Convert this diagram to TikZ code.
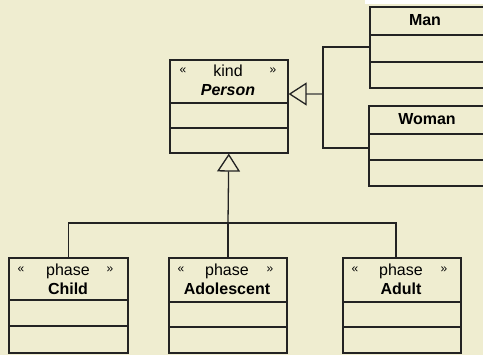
\documentclass[tikz,border=0pt]{standalone}
\usepackage{fontspec}
\setmainfont{Liberation Sans}
\usetikzlibrary{arrows.meta}
\definecolor{bg}{RGB}{239,237,208}
\definecolor{ln}{RGB}{35,35,35}
\definecolor{lngrey}{RGB}{120,120,110}
\tikzset{
  cls/.style={draw=ln, fill=bg, line width=1.6pt, rectangle, inner sep=0pt, anchor=north west},
  sep/.style={draw=ln, line width=1.3pt},
  thicksep/.style={draw=ln, line width=2.2pt},
  stereo/.style={font=\fontsize{16}{16}\selectfont, inner sep=0pt, anchor=base},
  guil/.style={font=\fontsize{12}{12}\selectfont, inner sep=0pt, anchor=base},
  cname/.style={font=\fontsize{16}{16}\selectfont\bfseries, inner sep=0pt, anchor=base},
  conn/.style={draw=ln, line width=1.3pt},
  gen/.style={conn, -{Triangle[open, length=18pt, width=23pt, line width=1.3pt, color=ln]}},
}
\begin{document}
\begin{tikzpicture}[x=1pt, y=-1pt]
\useasboundingbox (0,0) rectangle (483,355);
\clip (0,0) rectangle (483,355);
\fill[bg] (0,0) rectangle (483,355);
\fill[white] (365,0) rectangle (483,4);

% Person
\node[cls, minimum width=118pt, minimum height=93pt] (person) at (169,59) {};
\draw[thicksep] (169,103) -- (287,103);
\draw[sep] (169,128) -- (287,128);
\node[guil] (p1) at (183,74) {«};
\node[guil] (p2) at (273,74) {»};
\node[stereo] (pk) at (228,77) {kind};
\node[cname, font=\fontsize{16}{16}\selectfont\bfseries\itshape] (pn) at (228,96) {Person};

% Man
\node[cls, minimum width=130pt, minimum height=81pt] (man) at (369,6) {};
\draw[sep] (369,35) -- (499,35);
\draw[sep] (369,62) -- (499,62);
\node[cname] (mn) at (425,26) {Man};

% Woman
\node[cls, minimum width=130pt, minimum height=80pt] (woman) at (368,105) {};
\draw[sep] (368,134) -- (498,134);
\draw[sep] (368,160) -- (498,160);
\node[cname] (wn) at (427,125) {Woman};

% Child
\node[cls, minimum width=119pt, minimum height=95pt] (child) at (8,257) {};
\draw[thicksep] (8,300) -- (127,300);
\draw[sep] (8,326) -- (127,326);
\node[guil] (c1) at (21,273) {«};
\node[guil] (c2) at (110,273) {»};
\node[stereo] (ck) at (68,276) {phase};
\node[cname] (cn) at (68,295) {Child};

% Adolescent
\node[cls, line width=2pt, minimum width=118pt, minimum height=95pt] (adol) at (168,257) {};
\draw[sep] (168,302) -- (286,302);
\draw[sep] (168,327) -- (286,327);
\node[guil] (a1) at (181,273) {«};
\node[guil] (a2) at (270,273) {»};
\node[stereo] (ak) at (227,276) {phase};
\node[cname] (an) at (227,295) {Adolescent};

% Adult
\node[cls, line width=2pt, minimum width=118pt, minimum height=95pt] (adult) at (342,257) {};
\draw[sep] (342,302) -- (460,302);
\draw[sep] (342,327) -- (460,327);
\node[guil] (d1) at (355,273) {«};
\node[guil] (d2) at (444,273) {»};
\node[stereo] (dk) at (401,276) {phase};
\node[cname] (dn) at (401,295) {Adult};

% generalization to the right
\coordinate (jr) at (323,94);
\coordinate (jman) at (369,47);
\coordinate (jwom) at (368,148);
\draw[gen, draw=lngrey] (jr) -- (person.east |- jr);
\draw[conn] (jman) -| (jr) |- (jwom);

% generalization below
\coordinate (jb) at (228,223);
\coordinate (jadult) at (396,257);
\draw[gen] (adol.north |- jb) -- (person.south);
\draw[conn] (child.north) |- (jb) -| (jadult);
\draw[conn] (adol.north) -- (adol.north |- jb);
\end{tikzpicture}
\end{document}
